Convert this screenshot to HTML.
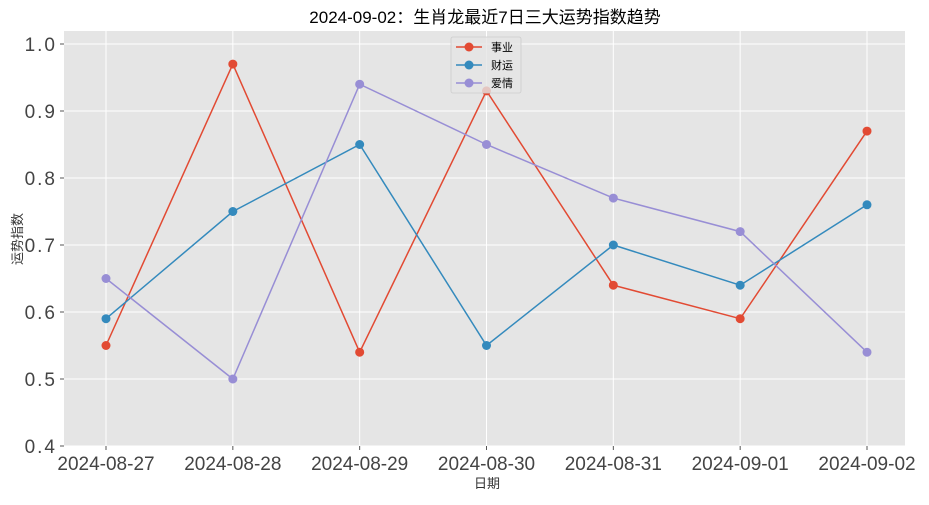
<!DOCTYPE html>
<html><head><meta charset="utf-8"><style>
body{margin:0;background:#fff;font-family:"Liberation Sans","Noto Sans CJK SC",sans-serif;}
svg text{font-family:"Liberation Sans","Noto Sans CJK SC",sans-serif;}
</style></head><body>
<svg id="chart" width="929" height="500" xmlns="http://www.w3.org/2000/svg">
<text x="485" y="23" text-anchor="middle" font-size="17" fill="#000">2024-09-02：生肖龙最近7日三大运势指数趋势</text>
<rect x="64" y="31" width="841" height="415" fill="#e5e5e5"/>
<g id="grid"></g><g id="axes"></g><g id="series"></g>
<text x="487" y="488" text-anchor="middle" font-size="13" fill="#333">日期</text>
<text transform="translate(22,239) rotate(-90)" text-anchor="middle" font-size="13" fill="#333">运势指数</text>
<g id="legend"></g>
</svg>
<script>
const categories=["2024-08-27","2024-08-28","2024-08-29","2024-08-30","2024-08-31","2024-09-01","2024-09-02"];
const career=[0.55,0.97,0.54,0.93,0.64,0.59,0.87];
const wealth=[0.59,0.75,0.85,0.55,0.70,0.64,0.76];
const love=[0.65,0.50,0.94,0.85,0.77,0.72,0.54];
const yTicks=[0.4,0.5,0.6,0.7,0.8,0.9,1.0];
const seriesNames=["事业","财运","爱情"];
const colors=["#E24A33","#348ABD","#988ED5"];
const NS="http://www.w3.org/2000/svg";
const x0=106,x1=867,yMin=0.4,yMax=1.0,py0=446,py1=44;
const xs=i=>x0+i*(x1-x0)/(categories.length-1);
const ys=v=>py0-(v-yMin)/(yMax-yMin)*(py0-py1);
function mk(tag,attrs,parent){const e=document.createElementNS(NS,tag);for(const k in attrs)e.setAttribute(k,attrs[k]);parent.appendChild(e);return e;}
const grid=document.getElementById('grid'),axes=document.getElementById('axes'),ser=document.getElementById('series'),leg=document.getElementById('legend');
yTicks.forEach(t=>{const y=ys(t);
 const g=mk('line',{x1:64,x2:905,y1:y,y2:y,stroke:'#fff','stroke-width':1},grid);
 
 
 mk('line',{x1:60,x2:64,y1:y,y2:y,stroke:'#555'},axes);
 const tx=mk('text',{x:57,y:y+7,'text-anchor':'end','font-size':19,fill:'#444','letter-spacing':2},axes);
 tx.textContent=t.toFixed(1);
 
 
});
categories.forEach((c,i)=>{const x=xs(i);
 const g=mk('line',{x1:x,x2:x,y1:31,y2:446,stroke:'#fff','stroke-width':1},grid);
 
 
 mk('line',{x1:x,x2:x,y1:446,y2:450,stroke:'#555'},axes);
 const tx=mk('text',{x:x,y:470,'text-anchor':'middle','font-size':19,fill:'#444'},axes);
 tx.textContent=c;
 
 
});
[career,wealth,love].forEach((d,si)=>{
 const pl=mk('polyline',{points:d.map((v,i)=>xs(i)+','+ys(v)).join(' '),fill:'none',stroke:colors[si],'stroke-width':1.5},ser);
 
 
 d.forEach((v,i)=>{const p=mk('circle',{cx:xs(i),cy:ys(v),r:4.5,fill:colors[si]},ser);
  
  });
});
mk('rect',{x:451,y:37,width:70,height:56,fill:'#e5e5e5','fill-opacity':0.8,stroke:'#ccc','stroke-width':0.8,rx:2},leg);
seriesNames.forEach((n,i)=>{const y=47+i*18;
 mk('line',{x1:456,x2:482,y1:y,y2:y,stroke:colors[i],'stroke-width':1.5},leg);
 mk('circle',{cx:469,cy:y,r:4.5,fill:colors[i]},leg);
 const t=mk('text',{x:491,y:y+4,'font-size':11,fill:'#000'},leg);
 t.textContent=n;
 
 
});
</script>
</body></html>
